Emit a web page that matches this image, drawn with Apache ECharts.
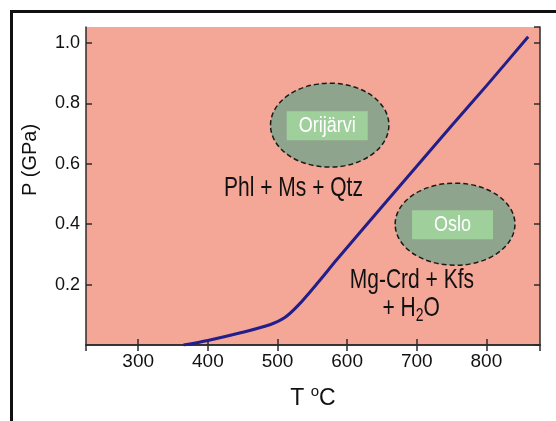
<!DOCTYPE html>
<html>
<head>
<meta charset="utf-8">
<script src="https://cdn.jsdelivr.net/npm/echarts@6/dist/echarts.min.js"></script>
<style>
  html, body { margin: 0; padding: 0; background: #fff; }
  #box1 { width: 556px; height: 421px; }
</style>
</head>
<body>
<div id="box1"></div>
<script>
// reaction curve Phl + Ms + Qtz = Mg-Crd + Kfs + H2O
var curveT = [365, 400, 450, 490, 510, 530, 560, 585, 650, 700, 750, 800, 860];
var curveP = [0.0, 0.015, 0.042, 0.068, 0.09, 0.132, 0.212, 0.282, 0.458, 0.592, 0.726, 0.858, 1.021];

// P-T fields (ellipses)
var regionNames = ['Orijärvi', 'Oslo'];
var regionT = [575, 755];
var regionP = [0.728, 0.40];
var regionRT = [85, 86];    // half width, °C
var regionRP = [0.139, 0.136]; // half height, GPa

// phase field labels
var fieldText = ['Phl + Ms + Qtz', 'Mg-Crd + Kfs', '+ H{sub|2}O'];
var fieldT = [523, 693, 692];
var fieldP = [0.519, 0.214, 0.121];

var xTicks = [300, 400, 500, 600, 700, 800];
var yTicks = [0.2, 0.4, 0.6, 0.8, 1.0];

var font = '"Liberation Sans", Arial, sans-serif';

var myChart = echarts.init(document.getElementById('box1'));

var lineData = curveT.map(function (t, i) { return [t, curveP[i]]; });
var regionData = regionT.map(function (t, i) { return [t, regionP[i], regionRT[i], regionRP[i], i]; });
var fieldData = fieldT.map(function (t, i) { return [t, fieldP[i], i]; });

var axisLine = { lineStyle: { color: '#2b2b2b', width: 1.5 } };
var axisTick = { inside: true, length: 6, lineStyle: { color: '#2b2b2b', width: 1.5 } };

option = {
    backgroundColor: '#fff',
    animation: false,
    graphic: [{
        type: 'rect',
        left: 9, top: 9,
        shape: { width: 600, height: 500 },
        style: { fill: 'none', stroke: '#111', lineWidth: 3 },
        z: 100
    }],
    grid: {
        left: 86, right: 16, top: 27, bottom: 76,
        show: true,
        backgroundColor: '#f5a797',
        borderWidth: 0
    },
    xAxis: [{
        type: 'value',
        min: 225, max: 877,
        name: 'T {sup|o}C',
        nameLocation: 'middle',
        nameGap: 39,
        nameTextStyle: {
            fontFamily: font, fontSize: 23, color: '#111',
            rich: { sup: { fontFamily: font, fontSize: 15, color: '#111', padding: [0, 0, 15, 0] } }
        },
        axisLine: axisLine,
        axisTick: axisTick,
        splitLine: { show: false },
        axisLabel: {
            showMinLabel: false, showMaxLabel: false,
            margin: 7,
            fontFamily: font, fontSize: 19, color: '#111',
            formatter: function (v) { return xTicks.indexOf(v) >= 0 ? String(v) : ''; }
        }
    }, {
        type: 'value',
        position: 'top',
        min: 225, max: 877,
        axisLine: axisLine,
        axisTick: axisTick,
        splitLine: { show: false },
        axisLabel: { show: false }
    }],
    yAxis: [{
        type: 'value',
        min: 0, max: 1.053,
        interval: 0.2,
        name: 'P (GPa)',
        nameLocation: 'middle',
        nameGap: 46,
        nameTextStyle: { fontFamily: font, fontSize: 20, color: '#111', padding: [0, 0, 0, 52] },
        axisLine: axisLine,
        axisTick: axisTick,
        splitLine: { show: false },
        axisLabel: {
            showMinLabel: false, showMaxLabel: false,
            margin: 6,
            fontFamily: font, fontSize: 18, color: '#111',
            formatter: function (v) {
                for (var i = 0; i < yTicks.length; i++) {
                    if (Math.abs(yTicks[i] - v) < 1e-6) return yTicks[i].toFixed(1);
                }
                return '';
            }
        }
    }, {
        type: 'value',
        position: 'right',
        min: 0, max: 1.053,
        interval: 0.2,
        axisLine: axisLine,
        axisTick: axisTick,
        splitLine: { show: false },
        axisLabel: { show: false }
    }],
    series: [{
        type: 'custom',
        name: 'fields',
        xAxisIndex: 0, yAxisIndex: 0,
        data: regionData,
        renderItem: function (params, api) {
            var c = api.coord([api.value(0), api.value(1)]);
            var s = api.size([api.value(2), api.value(3)]);
            var name = regionNames[api.value(4)];
            return {
                type: 'group',
                children: [{
                    type: 'ellipse',
                    shape: { cx: c[0], cy: c[1], rx: s[0], ry: s[1] },
                    style: { fill: '#8fa48c', stroke: '#1a1a1a', lineWidth: 1.5, lineDash: [5, 3] }
                }, {
                    type: 'rect',
                    shape: { x: c[0] - 43, y: c[1] - 14, width: 81, height: 29 },
                    style: { fill: '#9fcf9b' }
                }, {
                    type: 'text',
                    x: c[0] - 2.5, y: c[1] + 0.5,
                    scaleY: 1.2,
                    style: {
                        text: name, fill: '#fff', fontFamily: font, fontSize: 18,
                        align: 'center', verticalAlign: 'middle'
                    }
                }]
            };
        },
        z: 2
    }, {
        type: 'line',
        name: 'reaction',
        xAxisIndex: 0, yAxisIndex: 0,
        data: lineData,
        smooth: 0.3,
        showSymbol: false,
        lineStyle: { color: '#221e8a', width: 3 },
        z: 3
    }, {
        type: 'custom',
        name: 'labels',
        xAxisIndex: 0, yAxisIndex: 0,
        data: fieldData,
        renderItem: function (params, api) {
            var c = api.coord([api.value(0), api.value(1)]);
            return {
                type: 'text',
                x: c[0], y: c[1],
                scaleY: 1.3,
                style: {
                    text: fieldText[api.value(2)],
                    fill: '#111', fontFamily: font, fontSize: 21,
                    align: 'center', verticalAlign: 'middle',
                    rich: { sub: { fontFamily: font, fontSize: 14, fill: '#111', padding: [11, 0, 0, 0] } }
                }
            };
        },
        z: 4
    }]
};

myChart.setOption(option);
</script>
</body>
</html>
